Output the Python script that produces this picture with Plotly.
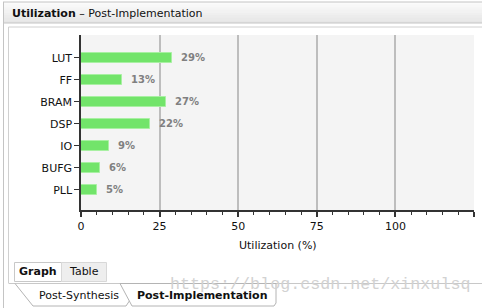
import plotly.graph_objects as go

# Resource utilization after implementation
resources = ["LUT", "FF", "BRAM", "DSP", "IO", "BUFG", "PLL"]
utilization = [29, 13, 27, 22, 9, 6, 5]
x_tick_vals = [0, 25, 50, 75, 100, 125]
x_tick_text = ["0", "25", "50", "75", "100", ""]

W, H = 482, 308
L, R, T, B = 81, 474, 35, 210  # plot area in pixels


def px(x):
    return (x - L) / (R - L)


def py(y):
    return (B - y) / (B - T)


FONT = "DejaVu Sans"

fig = go.Figure()
fig.add_trace(go.Bar(
    x=utilization,
    y=resources,
    orientation="h",
    width=0.45,
    marker=dict(color="#72e46a", line=dict(color="#a8f0a2", width=1)),
    hoverinfo="skip",
))

annotations = []
for r, v in zip(resources, utilization):
    annotations.append(dict(
        x=v, y=r, xref="x", yref="y", text=f"<b>{v}%</b>",
        showarrow=False, xanchor="left", yanchor="middle", xshift=7,
        font=dict(family=FONT, size=10, color="#808080"),
    ))

# header title
annotations.append(dict(
    x=px(10), y=py(13), xref="paper", yref="paper",
    text="<b>Utilization</b> – Post-Implementation", showarrow=False,
    xanchor="left", yanchor="middle", font=dict(family=FONT, size=11, color="#111111"),
))
# x axis title
annotations.append(dict(
    x=0.5, y=py(245), xref="paper", yref="paper", text="Utilization (%)",
    showarrow=False, xanchor="center", yanchor="middle",
    font=dict(family=FONT, size=11, color="#111111"),
))
# Graph / Table toggle
annotations.append(dict(
    x=px(38), y=py(271.5), xref="paper", yref="paper", text="<b>Graph</b>",
    showarrow=False, xanchor="center", yanchor="middle",
    font=dict(family=FONT, size=11, color="#111111"),
))
annotations.append(dict(
    x=px(84), y=py(271.5), xref="paper", yref="paper", text="Table",
    showarrow=False, xanchor="center", yanchor="middle",
    font=dict(family=FONT, size=11, color="#111111"),
))
# bottom tabs
annotations.append(dict(
    x=px(79), y=py(295.5), xref="paper", yref="paper", text="Post-Synthesis",
    showarrow=False, xanchor="center", yanchor="middle",
    font=dict(family=FONT, size=11, color="#111111"),
))
annotations.append(dict(
    x=px(202), y=py(295.5), xref="paper", yref="paper", text="<b>Post-Implementation</b>",
    showarrow=False, xanchor="center", yanchor="middle",
    font=dict(family=FONT, size=11, color="#111111"),
))
# blog watermark
annotations.append(dict(
    x=px(320), y=py(284), xref="paper", yref="paper",
    text="https://blog.csdn.net/xinxulsq",
    showarrow=False, xanchor="center", yanchor="middle",
    font=dict(family="Liberation Mono", size=16.7, color="#d2d2d2"),
))

shapes = []


def rect(x0, y0, x1, y1, fill=None, line=None, lw=1, layer="below"):
    shapes.append(dict(
        type="rect", xref="paper", yref="paper",
        x0=px(x0), x1=px(x1), y0=py(y0), y1=py(y1),
        fillcolor=fill if fill else "rgba(0,0,0,0)",
        line=dict(color=line if line else "rgba(0,0,0,0)", width=lw if line else 0),
        layer=layer,
    ))


def seg(x0, y0, x1, y1, color, lw=1, layer="below"):
    shapes.append(dict(
        type="line", xref="paper", yref="paper",
        x0=px(x0), x1=px(x1), y0=py(y0), y1=py(y1),
        line=dict(color=color, width=lw), layer=layer,
    ))


# header bar with a soft vertical gradient
grad = ["#fbfbfb", "#f8f8f8", "#f5f5f5", "#f2f2f2", "#efefef", "#ececec", "#e9e9e9", "#e6e6e6"]
for i, c in enumerate(grad):
    rect(3, 2 + i * 2.6, 482, 2 + (i + 1) * 2.6 + 0.3, fill=c)
seg(3, 2, 482, 2, "#c4c4c4")
seg(3, 23, 482, 23, "#c4c4c4")
# outer frame
seg(3.5, 2, 3.5, 308, "#c4c4c4")
# inner panel frame
seg(8.5, 27, 482, 27, "#d0d0d0")
seg(8.5, 27, 8.5, 283, "#d0d0d0")
# Graph / Table buttons
rect(14.5, 262.5, 61.5, 281.5, fill="#ffffff", line="#c8c8c8")
rect(61.5, 262.5, 106.5, 281.5, fill="#eeeeee", line="#d8d8d8")
# bottom tab strip
seg(8.5, 283.5, 482, 283.5, "#c8c8c8")
shapes.append(dict(
    type="path", xref="paper", yref="paper",
    path=f"M {px(15)},{py(283.5)} L {px(33)},{py(306)} L {px(126)},{py(306)} L {px(130)},{py(300)}",
    line=dict(color="#b4b4b4", width=1), layer="below",
))
shapes.append(dict(
    type="path", xref="paper", yref="paper",
    path=(f"M {px(120)},{py(283.5)} L {px(132)},{py(306)} L {px(274)},{py(306)} "
          f"L {px(276)},{py(303)} L {px(276)},{py(283.5)} Z"),
    fillcolor="#ffffff", line=dict(color="#b4b4b4", width=1), layer="below",
))

fig.update_layout(
    width=W, height=H,
    margin=dict(l=L, r=W - R, t=T, b=H - B, pad=0),
    paper_bgcolor="#ffffff",
    plot_bgcolor="#f4f4f4",
    showlegend=False,
    bargap=0,
    font=dict(family=FONT, size=11, color="#111111"),
    annotations=annotations,
    shapes=shapes,
    xaxis=dict(
        range=[0, 125],
        tickvals=x_tick_vals, ticktext=x_tick_text,
        showgrid=True, gridcolor="#bdbdbd", gridwidth=1.5,
        zeroline=False,
        showline=True, linecolor="#333333", linewidth=1.5,
        ticks="outside", ticklen=5, tickwidth=1.5, tickcolor="#333333",
        minor=dict(dtick=5, ticks="outside", ticklen=3, tickwidth=1, tickcolor="#333333", showgrid=False),
        tickfont=dict(family=FONT, size=11, color="#111111"),
        fixedrange=True,
    ),
    yaxis=dict(
        categoryorder="array", categoryarray=resources,
        range=[6.91, -1.045],
        showgrid=False, zeroline=False,
        showline=True, linecolor="#333333", linewidth=1.5,
        ticks="outside", ticklen=5, tickwidth=1, tickcolor="#333333",
        tickfont=dict(family=FONT, size=11, color="#111111"),
        fixedrange=True,
    ),
)

fig.write_html("out.html", config={"displayModeBar": False})
